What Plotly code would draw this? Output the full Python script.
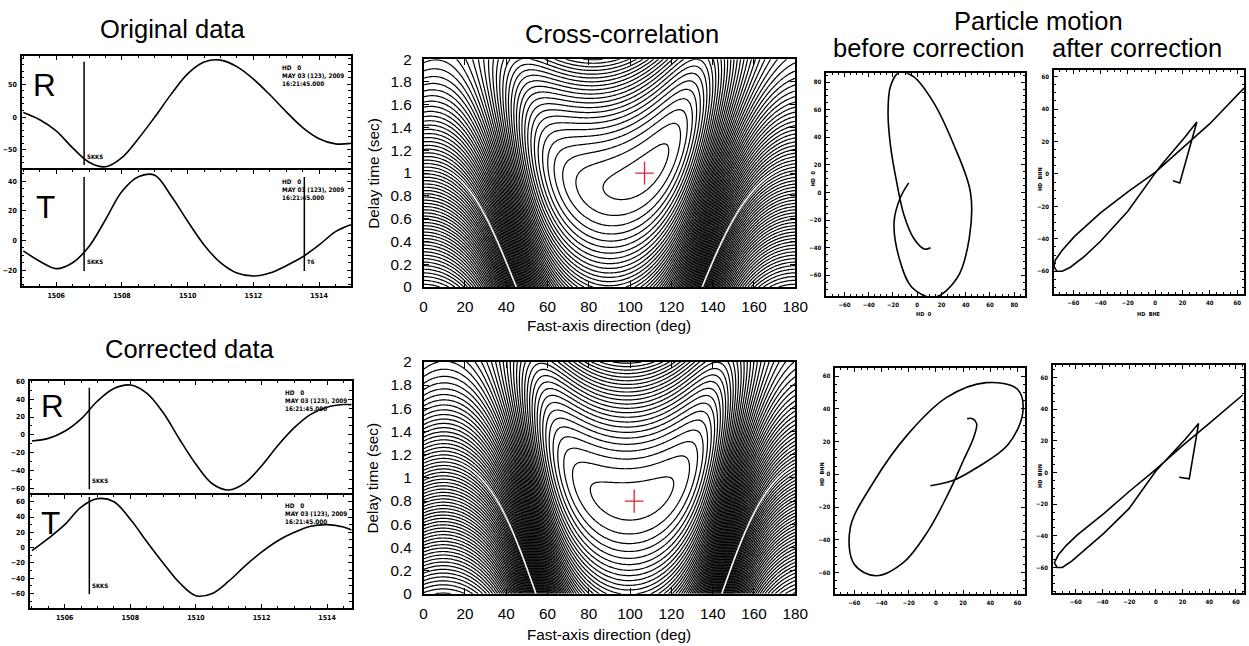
import numpy as np
import plotly.graph_objects as go

# ---------------------------------------------------------------------------
# Seismograms (radial / transverse), sampled every 0.5 s
# ---------------------------------------------------------------------------
time_orig = [1505.0, 1505.5, 1506.0, 1506.5, 1507.0, 1507.5, 1508.0, 1508.5, 1509.0, 1509.5,
             1510.0, 1510.5, 1511.0, 1511.5, 1512.0, 1512.5, 1513.0, 1513.5, 1514.0, 1514.5, 1515.0]
radial_orig = [7, -4, -21, -47, -69, -76, -62, -33, 0, 35,
               66, 84, 87, 77, 58, 34, 8, -16, -33, -41, -40]
transverse_orig = [-7, -14, -19, -15, -4, 14, 33, 43, 44, 30,
                   13, -3, -15, -22, -24, -22, -17, -11, -3, 6, 11]

time_corr = [1505.0, 1505.5, 1506.0, 1506.5, 1507.0, 1507.5, 1508.0, 1508.5, 1509.0, 1509.5,
             1510.0, 1510.5, 1511.0, 1511.5, 1512.0, 1512.5, 1513.0, 1513.5, 1514.0, 1514.5, 1514.75]
radial_corr = [-7, -4, 4, 18, 38, 52, 56, 47, 25, -5,
               -33, -55, -62, -54, -35, -12, 8, 23, 31, 34, 34]
transverse_corr = [-4, 12, 30, 53, 64, 60, 37, 8, -20, -46,
                   -63, -60, -44, -24, -6, 9, 20, 28, 30, 27, 23]

# phase picks
skks_orig, skks_corr, t6_pick = 1506.85, 1506.75, 1513.55

# ---------------------------------------------------------------------------
# Particle motion after the splitting correction (transverse vs radial)
# ---------------------------------------------------------------------------
pm_after_top_x = [13, 18, 30.5, 22, 5, 0, -20, -40, -52, -62, -68, -72, -74, -73, -68, -59,
                  -40, -20, 0, 20, 40, 65]
pm_after_top_y = [-4.2, -5.6, 32, 23, 6, 0.5, -23, -41.5, -51, -57.5, -60, -60, -57, -53, -47, -38.5,
                  -24, -11, 1, 16, 31, 53]
pm_after_bot_x = [17.5, 25, 32, 22, 0, -20, -39, -52, -63, -70, -74, -76, -73, -67, -59,
                  -39, -20, 0, 20, 40, 65]
pm_after_bot_y = [-3, -4, 31, 21, 1, -22.7, -38.5, -48, -56, -60, -60, -57, -52, -46, -39.6,
                  -26, -12, 2, 17, 31, 49]

# ---------------------------------------------------------------------------
# Splitting parameters of the cross-correlation grids [top, bottom]
# ---------------------------------------------------------------------------
fast_dir = [107, 102]        # deg
split_delay = [1.0, 0.8]     # sec
initial_pol = [50, 55]       # deg, polarization of the incoming wave
wave_period = 7.8            # sec
wave_width = 3.0             # sec

phi_grid = np.arange(0, 180.5, 0.75)
lag_grid = np.arange(0, 2.0001, 0.01)


def split_xcorr(pol, fast, delay):
    """Normalised cross-correlation of trial fast/slow components."""
    def acf(tau):
        return np.exp(-0.5 * (tau / wave_width) ** 2) * np.cos(2 * np.pi * tau / wave_period)

    P, L = np.meshgrid(phi_grid, lag_grid)
    a0 = np.radians(fast - pol)
    d = np.radians(P - fast)
    a1 = np.cos(d) * np.cos(a0)
    a2 = -np.sin(d) * np.sin(a0)
    b1 = -np.sin(d) * np.cos(a0)
    b2 = -np.cos(d) * np.sin(a0)
    num = (a1 * b1 + a2 * b2) * acf(L) + a1 * b2 * acf(L - delay) + a2 * b1 * acf(L + delay)
    ff = (a1 ** 2 + a2 ** 2) * acf(0) + 2 * a1 * a2 * acf(delay)
    ss = (b1 ** 2 + b2 ** 2) * acf(0) + 2 * b1 * b2 * acf(delay)
    return num / np.sqrt(ff * ss + 1e-12)


# Positions below are given in screen pixels; the page adds a top margin and is
# shown slightly scaled, so convert screen pixels to figure paper fractions.
W, H = 1257, 646
SCALE_X, SCALE_Y = 0.9874, 0.9744
SHIFT_X, SHIFT_Y = 1.0, 7.8


def px(x):
    return min(max((x - SHIFT_X) / SCALE_X / W, 0.0), 1.0)


def py(y):
    return min(max(1 - (y - SHIFT_Y) / SCALE_Y / H, 0.0), 1.0)


def xdom(a, b):
    return [px(a), px(b)]


def ydom(top, bottom):
    return [py(bottom), py(top)]


def ax_ids(i):
    """Trace-level axis ids and layout keys for subplot number i."""
    s = "" if i == 1 else str(i)
    return "x" + s, "y" + s, "xaxis" + s, "yaxis" + s


fig = go.Figure()

sac_font = dict(family="DejaVu Sans Condensed, DejaVu Sans", size=7, color="black", weight="bold")
gp_font = dict(family="Liberation Sans, Arial", size=15.3, color="black")


def sac_axis(domain, rng, dtick, minor, labels, anchor, tick0=0, mirror="allticks", side=None):
    ax = dict(domain=domain, range=rng, dtick=dtick, tick0=tick0, ticks="inside", ticklen=4,
              tickwidth=1.1, tickcolor="black",
              minor=dict(dtick=minor, tick0=tick0, ticks="inside", ticklen=2.5, tickwidth=1,
                         tickcolor="black"),
              showline=True, linewidth=1.5, linecolor="black", mirror=mirror,
              showgrid=False, zeroline=False, showticklabels=labels, tickfont=sac_font,
              anchor=anchor, ticklabelstandoff=2)
    if side:
        ax["side"] = side
    return ax


layout = dict(width=W, height=H, margin=dict(l=0, r=0, t=0, b=0),
              paper_bgcolor="white", plot_bgcolor="white", showlegend=False)

# --- seismogram panels -----------------------------------------------------
# radial panels carry their time axis on top only; the shared edge is drawn by
# the transverse panel underneath
wave_panels = [
    ([1504.96, 1514.96], xdom(19, 348), ydom(55, 169), [-81, 93], 50, 10, time_orig, radial_orig, True),
    ([1504.96, 1514.96], xdom(19, 348), ydom(169, 285), [-30.7, 47.5], 20, 5, time_orig, transverse_orig, False),
    ([1504.94, 1514.75], xdom(27, 349), ydom(380, 494), [-67.5, 60.6], 20, 10, time_corr, radial_corr, True),
    ([1504.94, 1514.75], xdom(27, 349), ydom(494, 607), [-78.7, 69], 20, 10, time_corr, transverse_corr, False),
]
for i, (xr, xd, yd, yr, dt, mn, tt, vv, is_radial) in enumerate(wave_panels, start=1):
    xa, ya, xk, yk = ax_ids(i)
    if is_radial:
        layout[xk] = sac_axis(xd, xr, 2, 0.5, False, ya, mirror=False, side="top")
    else:
        layout[xk] = sac_axis(xd, xr, 2, 0.5, True, ya)
    layout[yk] = sac_axis(yd, yr, dt, mn, True, xa)
    fig.add_trace(go.Scatter(x=tt, y=vv, mode="lines", xaxis=xa, yaxis=ya,
                             line=dict(color="black", width=1.6, shape="spline", smoothing=1.0)))

# --- cross-correlation panels ---------------------------------------------
cc_domains = [ydom(58, 286), ydom(361, 593)]
for k in range(2):
    xa, ya, xk, yk = ax_ids(5 + k)
    layout[xk] = dict(domain=xdom(421, 793), range=[0, 180], dtick=20, ticks="inside",
                      ticklen=6, tickcolor="black", showline=True, linewidth=1.5,
                      linecolor="black", mirror="allticks", showgrid=False,
                      zeroline=False, tickfont=gp_font, anchor=ya, ticklabelstandoff=5)
    layout[yk] = dict(domain=cc_domains[k], range=[0, 2], dtick=0.2, ticks="inside",
                      ticklen=6, tickcolor="black", showline=True, linewidth=1.5,
                      linecolor="black", mirror="allticks", showgrid=False,
                      zeroline=False, tickfont=gp_font, anchor=xa, ticklabelstandoff=7)
    z = split_xcorr(initial_pol[k], fast_dir[k], split_delay[k])
    fig.add_trace(go.Contour(x=phi_grid, y=lag_grid, z=z, xaxis=xa, yaxis=ya, showscale=False,
                             colorscale=[[0, "black"], [1, "black"]],
                             contours=dict(start=-0.99, end=0.99, size=0.02, coloring="lines"),
                             line=dict(width=1.2, smoothing=1.0), hoverinfo="skip"))
    fig.add_trace(go.Contour(x=phi_grid, y=lag_grid, z=z, xaxis=xa, yaxis=ya, showscale=False,
                             colorscale=[[0, "white"], [1, "white"]],
                             contours=dict(start=0, end=0, size=0.5, coloring="lines"),
                             line=dict(width=1.6, smoothing=1.0), hoverinfo="skip"))
    f, d = fast_dir[k], split_delay[k]
    fig.add_trace(go.Scatter(x=[f - 4.5, f + 4.5, None, f, f], y=[d, d, None, d - 0.1, d + 0.1],
                             mode="lines", xaxis=xa, yaxis=ya,
                             line=dict(color="#e0203a", width=1.3)))

# --- particle motion panels -----------------------------------------------
pm_panels = [
    (xdom(824, 1023), ydom(72, 295), [-75, 89], [-75, 86.5], transverse_orig, radial_orig, "spline"),
    (xdom(1052, 1243), ydom(69, 293), [-74, 65], [-74, 64], pm_after_top_x, pm_after_top_y, "linear"),
    (xdom(833, 1023), ydom(367, 593), [-74, 65.6], [-73, 65], transverse_corr, radial_corr, "spline"),
    (xdom(1051, 1249), ydom(364, 592), [-77, 66], [-76, 68], pm_after_bot_x, pm_after_bot_y, "linear"),
]
for k, (xd, yd, xr, yr, pxs, pys, shp) in enumerate(pm_panels):
    xa, ya, xk, yk = ax_ids(7 + k)
    layout[xk] = sac_axis(xd, xr, 20, 5, True, ya)
    layout[yk] = sac_axis(yd, yr, 20, 5, True, xa)
    layout[xk]["tickfont"] = dict(sac_font, size=6)
    layout[yk]["tickfont"] = dict(sac_font, size=6)
    line = dict(color="black", width=1.6, shape=shp)
    if shp == "spline":
        line["smoothing"] = 1.0
    fig.add_trace(go.Scatter(x=pxs, y=pys, mode="lines", xaxis=xa, yaxis=ya, line=line))

# --- phase markers ---------------------------------------------------------
shapes = []
annotations = []
pick_font = dict(sac_font, size=6)
marker_specs = [
    (1, skks_orig, 0.045, 0.95, "SKKS"),
    (2, skks_orig, 0.13, 0.94, "SKKS"),
    (2, t6_pick, 0.13, 0.94, "T6"),
    (3, skks_corr, 0.05, 0.94, "SKKS"),
    (4, skks_corr, 0.12, 0.98, "SKKS"),
]
for i, t0, y0, y1, name in marker_specs:
    xa, ya, _, _ = ax_ids(i)
    shapes.append(dict(type="line", xref=xa, yref=f"{ya} domain", x0=t0, x1=t0, y0=y0, y1=y1,
                       line=dict(color="black", width=1.5)))
    annotations.append(dict(xref=xa, yref=f"{ya} domain", x=t0, y=y0 + 0.03, text=name,
                            showarrow=False, xanchor="left", yanchor="bottom", xshift=1,
                            font=pick_font))

# station header blocks
header = "HD   0<br>MAY 03 (123), 2009<br>16:21:45.000"
for i in range(1, 5):
    xa, ya, _, _ = ax_ids(i)
    annotations.append(dict(xref=f"{xa} domain", yref=f"{ya} domain", x=0.785, y=0.95,
                            text=header, showarrow=False, xanchor="left", yanchor="top",
                            align="left", font=dict(sac_font, size=6.3)))

# component letters
big = dict(family="Liberation Sans, Arial", size=31.5, color="black")
for txt, x, y in [("R", 42, 84), ("T", 43, 206), ("R", 50, 405), ("T", 48, 522)]:
    annotations.append(dict(xref="paper", yref="paper", x=px(x), y=py(y), text=txt,
                            showarrow=False, xanchor="center", yanchor="middle", font=big))

# titles
title_font = dict(family="Liberation Sans, Arial", size=25.5, color="black")
for txt, x, y in [("Original data", 170, 28), ("Corrected data", 187, 348),
                  ("Cross-correlation", 620, 33), ("Particle motion", 1036, 20),
                  ("before correction", 926, 47), ("after correction", 1135, 47)]:
    annotations.append(dict(xref="paper", yref="paper", x=px(x), y=py(y), text=txt,
                            showarrow=False, xanchor="center", yanchor="middle", font=title_font))

# cross-correlation axis titles
for ytop, ybot, xt in [(58, 286, 325), (361, 593, 634)]:
    annotations.append(dict(xref="paper", yref="paper", x=px(370), y=py((ytop + ybot) / 2),
                            text="Delay time (sec)", textangle=-90, showarrow=False,
                            xanchor="center", yanchor="middle", font=gp_font))
    annotations.append(dict(xref="paper", yref="paper", x=px(607), y=py(xt),
                            text="Fast-axis direction (deg)", showarrow=False,
                            xanchor="center", yanchor="middle", font=gp_font))

# particle motion axis names
tiny = dict(sac_font, size=5.5)
for txt, x, y, ang in [("HD  0", 922, 313, 0), ("HD  0", 811, 177, -90),
                       ("HD  BHE", 1147, 313, 0), ("HD  BHN", 1038, 178, -90),
                       ("HD  BHN", 820, 473, -90), ("HD  BHN", 1038, 475, -90)]:
    annotations.append(dict(xref="paper", yref="paper", x=px(x), y=py(y), text=txt,
                            textangle=ang, showarrow=False, xanchor="center", yanchor="middle",
                            font=tiny))

layout["shapes"] = shapes
layout["annotations"] = annotations
fig.update_layout(**layout)
fig.write_html("out.html")
